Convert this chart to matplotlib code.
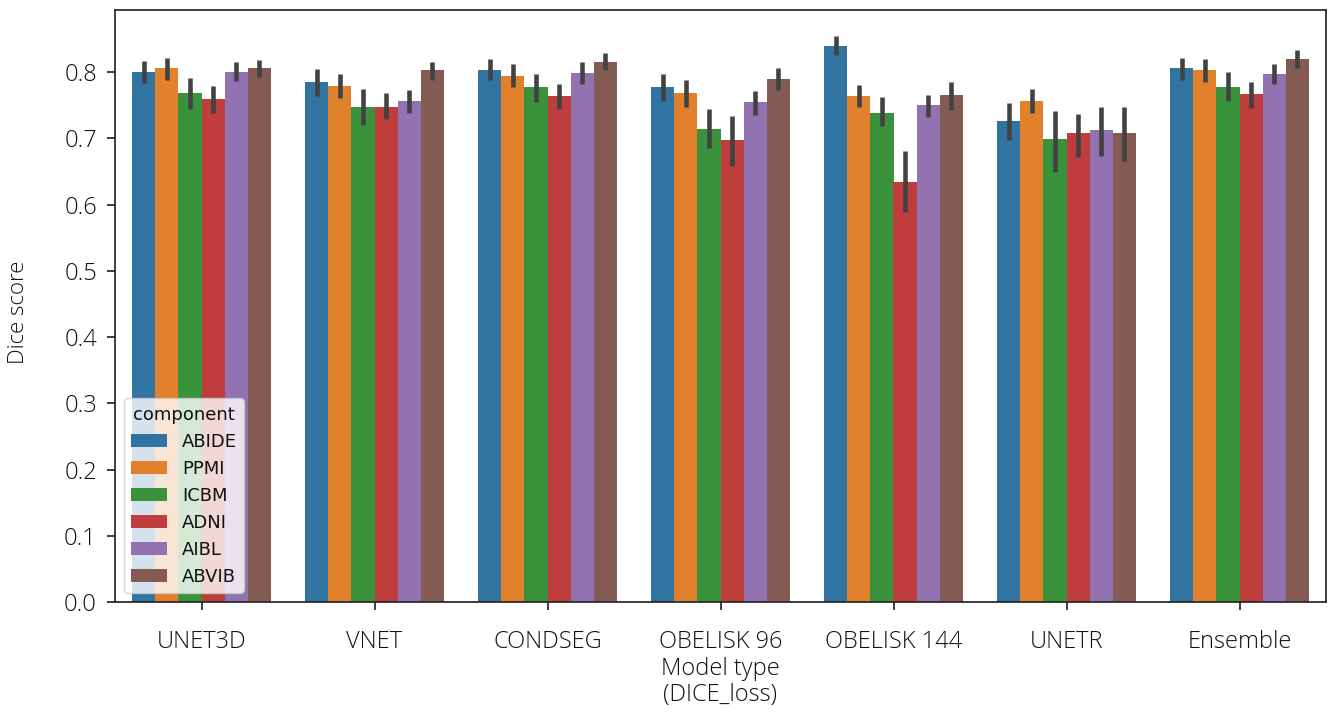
import numpy as np
import matplotlib
matplotlib.use("Agg")
import matplotlib.pyplot as plt

models = ["UNET3D", "VNET", "CONDSEG", "OBELISK 96", "OBELISK 144", "UNETR", "Ensemble"]
components = ["ABIDE", "PPMI", "ICBM", "ADNI", "AIBL", "ABVIB"]
colors = ["#3274a1", "#e1812c", "#3a923a", "#c03d3e", "#9372b2", "#845b53"]

# mean Dice score per model, one list per component
abide = [0.800, 0.785, 0.803, 0.777, 0.840, 0.727, 0.806]
ppmi  = [0.806, 0.779, 0.795, 0.769, 0.764, 0.756, 0.803]
icbm  = [0.769, 0.748, 0.777, 0.714, 0.739, 0.699, 0.778]
adni  = [0.759, 0.748, 0.764, 0.698, 0.634, 0.708, 0.767]
aibl  = [0.801, 0.756, 0.799, 0.755, 0.750, 0.713, 0.797]
abvib = [0.806, 0.803, 0.816, 0.790, 0.765, 0.709, 0.820]

# 95% confidence interval bounds
abide_lo = [0.784, 0.764, 0.788, 0.756, 0.826, 0.698, 0.789]
abide_hi = [0.817, 0.805, 0.820, 0.797, 0.854, 0.754, 0.822]
ppmi_lo  = [0.789, 0.761, 0.778, 0.748, 0.747, 0.738, 0.785]
ppmi_hi  = [0.821, 0.798, 0.812, 0.789, 0.780, 0.775, 0.820]
icbm_lo  = [0.744, 0.721, 0.755, 0.686, 0.719, 0.649, 0.757]
icbm_hi  = [0.792, 0.774, 0.798, 0.744, 0.762, 0.742, 0.800]
adni_lo  = [0.739, 0.729, 0.745, 0.659, 0.589, 0.672, 0.746]
adni_hi  = [0.779, 0.768, 0.783, 0.734, 0.681, 0.737, 0.786]
aibl_lo  = [0.787, 0.738, 0.783, 0.736, 0.733, 0.674, 0.782]
aibl_hi  = [0.816, 0.773, 0.815, 0.771, 0.766, 0.747, 0.812]
abvib_lo = [0.793, 0.789, 0.803, 0.773, 0.743, 0.666, 0.807]
abvib_hi = [0.819, 0.816, 0.829, 0.807, 0.785, 0.748, 0.833]

means = [abide, ppmi, icbm, adni, aibl, abvib]
lows = [abide_lo, ppmi_lo, icbm_lo, adni_lo, aibl_lo, abvib_lo]
highs = [abide_hi, ppmi_hi, icbm_hi, adni_hi, aibl_hi, abvib_hi]

ink = "#111111"
label_font = dict(family=["Open Sans", "DejaVu Sans"], weight="light", size=17, color=ink)

fig = plt.figure(figsize=(13.28, 7.18), dpi=100)
ax = fig.add_axes([115 / 1328, 116 / 718, 1211 / 1328, 592 / 718])

x = np.arange(len(models))
n = len(components)
width = 0.8 / n
for i, (name, m, lo, hi, c) in enumerate(zip(components, means, lows, highs, colors)):
    pos = x - 0.4 + width * (i + 0.5)
    ax.bar(pos, m, width=width, color=c, label=name, edgecolor="none", zorder=2)
    ax.vlines(pos, lo, hi, color="#424242", linewidth=3.3, zorder=3)

ax.set_xlim(-0.5, len(models) - 0.5)
ax.set_ylim(0, 0.894)
yt = np.arange(0, 0.81, 0.1)
ax.set_yticks(yt)
ax.set_yticklabels([f"{v:.1f}" for v in yt], **label_font)
ax.set_xticks(x)
ax.set_xticklabels(models, **label_font)
ax.tick_params(axis="both", direction="out", length=6, width=1.25, color="#262626", pad=7)
ax.tick_params(axis="x", pad=14)

for s in ax.spines.values():
    s.set_linewidth(1.25)
    s.set_color("#262626")

ax.set_ylabel("Dice score", family=["Open Sans", "DejaVu Sans"], weight="light",
              size=16, color=ink)
ax.yaxis.set_label_coords(-0.071, 0.49)
ax.set_xlabel("Model type\n(DICE_loss)", **label_font, labelpad=2, linespacing=1.12)

leg = ax.legend(title="component", loc="lower left", fontsize=13, title_fontsize=13,
                frameon=True, framealpha=0.8, fancybox=True, handlelength=2.0)
leg.get_frame().set_edgecolor("#cccccc")
for t in leg.get_texts():
    t.set_color(ink)
leg.get_title().set_color(ink)

fig.savefig("out.png", dpi=100)
